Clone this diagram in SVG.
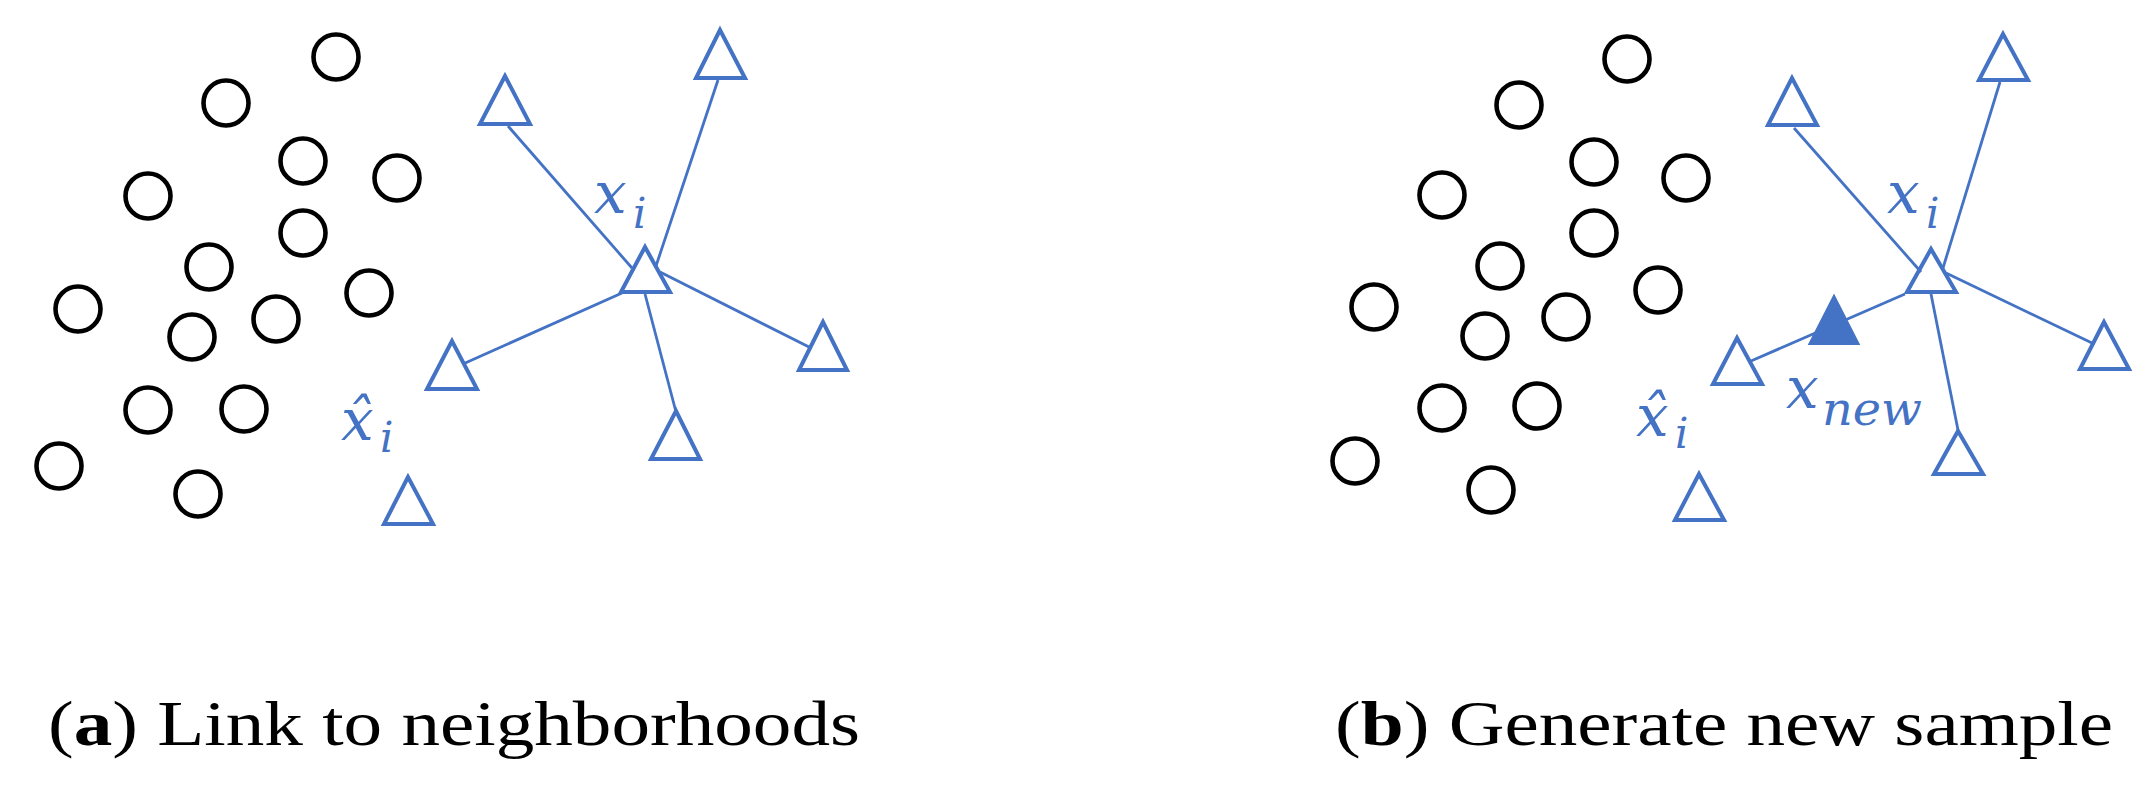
<svg xmlns="http://www.w3.org/2000/svg" width="2150" height="797" viewBox="0 0 2150 797">
<style>
.c{fill:none;stroke:#000;stroke-width:4.6}
.t{fill:none;stroke:#4472C4;stroke-width:4;stroke-linejoin:miter}
.tf{fill:#4472C4;stroke:#4472C4;stroke-width:4}
.ln{stroke:#4472C4;stroke-width:2.8;fill:none}
.m{font-family:"DejaVu Serif",serif;font-style:italic;fill:#4472C4;font-size:58px}
.sub{font-size:42px}
.cap{font-family:"Liberation Serif","Times New Roman",serif;font-size:63px;fill:#000}
</style>
<rect width="2150" height="797" fill="#fff"/>
<g id="panel-a">
<g id="a-connectors">
<line class="ln" x1="508" y1="126" x2="632" y2="268"/>
<line class="ln" x1="718" y1="80" x2="656" y2="266"/>
<line class="ln" x1="660" y1="272" x2="811" y2="348"/>
<line class="ln" x1="622" y1="293" x2="463" y2="364"/>
<line class="ln" x1="645" y1="294" x2="676" y2="412"/>
</g>
<g id="a-circles">
<circle class="c" cx="336" cy="57" r="22.5"/>
<circle class="c" cx="226" cy="103" r="22.5"/>
<circle class="c" cx="303" cy="161" r="22.5"/>
<circle class="c" cx="397" cy="178" r="22.5"/>
<circle class="c" cx="148" cy="196" r="22.5"/>
<circle class="c" cx="303" cy="233" r="22.5"/>
<circle class="c" cx="209" cy="267" r="22.5"/>
<circle class="c" cx="369" cy="293" r="22.5"/>
<circle class="c" cx="78" cy="309" r="22.5"/>
<circle class="c" cx="276" cy="319" r="22.5"/>
<circle class="c" cx="192" cy="337" r="22.5"/>
<circle class="c" cx="148" cy="410" r="22.5"/>
<circle class="c" cx="244" cy="409" r="22.5"/>
<circle class="c" cx="59" cy="466" r="22.5"/>
<circle class="c" cx="198" cy="494" r="22.5"/>
</g>
<g id="a-triangles">
<polygon class="t" points="505,76 480,124 530,124"/>
<polygon class="t" points="720,30 696,78 745,78"/>
<polygon class="t" points="645,247 621,292 670,292"/>
<polygon class="t" points="452,341 427,389 477,389"/>
<polygon class="t" points="823,322 799,370 847,370"/>
<polygon class="t" points="676,411 651,459 700,459"/>
<polygon class="t" points="408,477 384,524 433,524"/>
</g>
<g id="a-labels">
<text class="m" x="594" y="213">x<tspan class="sub" x="633" y="228">i</tspan></text>
<text class="m" x="341" y="440">x&#x302;<tspan class="sub" x="380" y="452">i</tspan></text>
</g>
</g>
<g id="panel-b">
<g id="b-connectors">
<line class="ln" x1="1794" y1="128" x2="1921" y2="272"/>
<line class="ln" x1="2000" y1="82" x2="1943" y2="268"/>
<line class="ln" x1="1946" y1="273" x2="2092" y2="343"/>
<line class="ln" x1="1905" y1="294" x2="1751" y2="361"/>
<line class="ln" x1="1931" y1="294" x2="1958" y2="430"/>
</g>
<g id="b-circles">
<circle class="c" cx="1627" cy="59" r="22.5"/>
<circle class="c" cx="1519" cy="105" r="22.5"/>
<circle class="c" cx="1594" cy="162" r="22.5"/>
<circle class="c" cx="1686" cy="178" r="22.5"/>
<circle class="c" cx="1442" cy="195" r="22.5"/>
<circle class="c" cx="1594" cy="233" r="22.5"/>
<circle class="c" cx="1500" cy="266" r="22.5"/>
<circle class="c" cx="1658" cy="290" r="22.5"/>
<circle class="c" cx="1374" cy="307" r="22.5"/>
<circle class="c" cx="1566" cy="317" r="22.5"/>
<circle class="c" cx="1485" cy="336" r="22.5"/>
<circle class="c" cx="1442" cy="408" r="22.5"/>
<circle class="c" cx="1537" cy="406" r="22.5"/>
<circle class="c" cx="1355" cy="461" r="22.5"/>
<circle class="c" cx="1491" cy="490" r="22.5"/>
</g>
<g id="b-triangles">
<polygon class="t" points="1792,78 1768,125 1817,125"/>
<polygon class="t" points="2003,34 1979,80 2028,80"/>
<polygon class="t" points="1931,249 1907,292 1956,292"/>
<polygon class="t" points="1737,338 1713,384 1762,384"/>
<polygon class="t" points="2104,322 2080,369 2129,369"/>
<polygon class="t" points="1958,431 1934,474 1983,474"/>
<polygon class="t" points="1699,474 1675,520 1724,520"/>
<polygon class="tf" points="1834,298 1811,343 1857,343"/>
</g>
<g id="b-labels">
<text class="m" x="1887" y="213">x<tspan class="sub" x="1926" y="228">i</tspan></text>
<text class="m" x="1636" y="436">x&#x302;<tspan class="sub" x="1675" y="448">i</tspan></text>
<text class="m" x="1786" y="408">x<tspan x="1822" y="425" font-size="46" textLength="100" lengthAdjust="spacingAndGlyphs">new</tspan></text>
</g>
</g>
<g id="captions">
<text class="cap" x="48" y="745" textLength="812" lengthAdjust="spacingAndGlyphs">(<tspan font-weight="bold">a</tspan>) Link to neighborhoods</text>
<text class="cap" x="1335" y="745" textLength="778" lengthAdjust="spacingAndGlyphs">(<tspan font-weight="bold">b</tspan>) Generate new sample</text>
</g>
</svg>
